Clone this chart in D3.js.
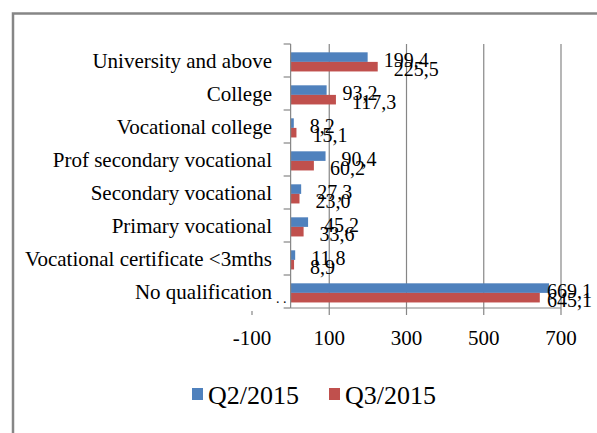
<!DOCTYPE html>
<html>
<head>
<meta charset="utf-8">
<script src="https://cdn.jsdelivr.net/npm/d3@7"></script>
<style>
  html, body { margin: 0; padding: 0; background: #fff; }
  svg { display: block; }
</style>
</head>
<body>
<svg id="chart" width="597" height="433"></svg>
<script>
const categories = [
  "University and above",
  "College",
  "Vocational college",
  "Prof secondary vocational",
  "Secondary vocational",
  "Primary vocational",
  "Vocational certificate <3mths",
  "No qualification"
];
const seriesNames = ["Q2/2015", "Q3/2015"];
const q2Values = [199.4, 93.2, 8.2, 90.4, 27.3, 45.2, 11.8, 669.1];
const q3Values = [225.5, 117.3, 15.1, 60.2, 23.0, 33.6, 8.9, 645.1];
const tickValues = [-100, 100, 300, 500, 700];
const gridValues = [100, 300, 500, 700];
const colors = ["#4F81BD", "#C0504D"];

const FONT = "'Liberation Serif', 'Times New Roman', 'DejaVu Serif', serif";
const svg = d3.select("#chart")
  .attr("font-family", FONT)
  .style("font-family", FONT);

// outer frame
svg.append("rect")
  .attr("x", 13).attr("y", 13.5)
  .attr("width", 700).attr("height", 500)
  .attr("fill", "none").attr("stroke", "#868686").attr("stroke-width", 2.5);

const x = d3.scaleLinear().domain([-100, 700]).range([252, 561]);
const y = d3.scaleBand().domain(categories).range([44, 308]);
const yBars = d3.scaleBand().domain(categories).range([44, 308])
  .paddingInner(0.42).paddingOuter(0.21).align(0.6);
const ySub = d3.scaleBand().domain(seriesNames).range([0, yBars.bandwidth()]);

const plotTop = y.range()[0], plotBottom = y.range()[1];

// gridlines
svg.append("g").selectAll("line").data(gridValues).join("line")
  .attr("x1", d => x(d)).attr("x2", d => x(d))
  .attr("y1", plotTop).attr("y2", plotBottom)
  .attr("stroke", "#868686").attr("stroke-width", 1.2);

// bars
const data = categories.map((c, i) => ({ c, vals: [q2Values[i], q3Values[i]] }));
const groups = svg.append("g").selectAll("g").data(data).join("g")
  .attr("transform", d => `translate(0,${yBars(d.c)})`);
groups.selectAll("rect").data(d => d.vals.map((v, k) => ({ v, k }))).join("rect")
  .attr("x", d => x(Math.min(0, d.v)))
  .attr("width", d => Math.abs(x(d.v) - x(0)))
  .attr("y", d => ySub(seriesNames[d.k]))
  .attr("height", ySub.bandwidth())
  .attr("fill", d => colors[d.k]);

// axes lines
svg.append("line")
  .attr("x1", x(0)).attr("x2", x(0)).attr("y1", plotTop).attr("y2", plotBottom)
  .attr("stroke", "#868686").attr("stroke-width", 1.2);
svg.append("line")
  .attr("x1", x(0)).attr("x2", x(700)).attr("y1", plotBottom).attr("y2", plotBottom)
  .attr("stroke", "#868686").attr("stroke-width", 1.2);

// category ticks
const catTicks = categories.map(c => y(c)).concat([plotBottom]);
svg.append("g").selectAll("line").data(catTicks).join("line")
  .attr("x1", x(0) - 7).attr("x2", x(0))
  .attr("y1", d => d).attr("y2", d => d)
  .attr("stroke", "#868686").attr("stroke-width", 1.2);

// value ticks
svg.append("g").selectAll("line").data(tickValues).join("line")
  .attr("x1", d => x(d)).attr("x2", d => x(d))
  .attr("y1", d => d < 0 ? plotBottom + 3 : plotBottom)
  .attr("y2", plotBottom + 7)
  .attr("stroke", "#868686").attr("stroke-width", 1.2);

// value tick labels
svg.append("g").selectAll("text").data(tickValues).join("text")
  .attr("x", d => x(d)).attr("y", 345)
  .attr("text-anchor", "middle").attr("font-size", 21)
  .text(d => d);

// category labels
svg.append("g").selectAll("text").data(categories).join("text")
  .attr("x", 272).attr("y", d => y(d) + y.bandwidth() / 2 + 7)
  .attr("text-anchor", "end").attr("font-size", 21)
  .text(d => d);

// data labels
const fmt = v => d3.format(".1f")(v).replace(".", ",");
groups.selectAll("text").data(d => d.vals.map((v, k) => ({ v, k }))).join("text")
  .attr("x", d => Math.min(x(d.v) + 16, 547))
  .attr("y", d => ySub(seriesNames[d.k]) + ySub.bandwidth() / 2 + 9.5)
  .attr("font-size", 20)
  .text(d => fmt(d.v));

// small leader dots near last category
svg.append("text")
  .attr("x", 276).attr("y", y(categories[7]) + y.bandwidth() / 2 + 11)
  .attr("font-size", 14).text(". .");

// legend
const legend = svg.append("g");
const legendX = [192, 329];
seriesNames.forEach((s, k) => {
  legend.append("rect")
    .attr("x", legendX[k]).attr("y", 388).attr("width", 11).attr("height", 12)
    .attr("fill", colors[k]);
  legend.append("text")
    .attr("x", legendX[k] + 16).attr("y", 404)
    .attr("font-size", 26).text(s);
});
</script>
</body>
</html>
